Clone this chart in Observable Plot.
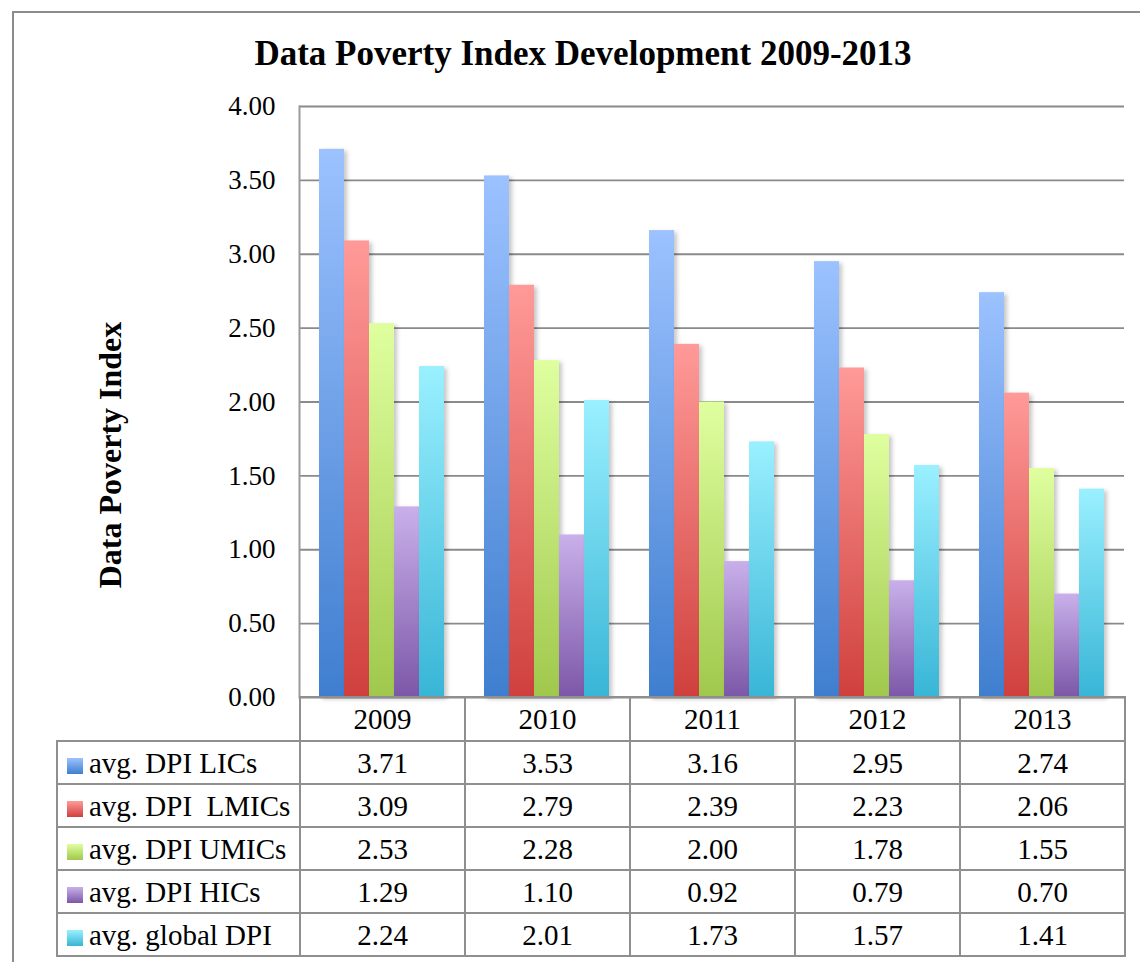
<!DOCTYPE html>
<html>
<head>
<meta charset="utf-8">
<script src="https://cdn.jsdelivr.net/npm/d3@7"></script>
<script src="https://cdn.jsdelivr.net/npm/@observablehq/plot@0.6"></script>
<style>
  body { margin: 0; background: #fff; }
  #wrap { position: relative; width: 1140px; height: 962px; overflow: hidden; background: #fff;
          font-family: "Liberation Serif", "Times New Roman", Times, serif; color: #000; }
  #border { position: absolute; left: 12px; top: 11px; width: 1300px; height: 1100px;
            border-left: 2px solid #8c8c8c; border-top: 2px solid #8c8c8c; }
  #title { position: absolute; left: 0; width: 1166px; top: 34px; text-align: center;
           font-weight: bold; font-size: 35px; line-height: 40px; white-space: nowrap; }
  #ylabel { position: absolute; left: 110px; top: 455px; transform: translate(-50%, -50%) rotate(-90deg);
            font-weight: bold; font-size: 32px; white-space: nowrap; line-height: 36px; }
  #chart { position: absolute; left: 0; top: 0; }
  #tbl { position: absolute; left: 56px; top: 696px; border-collapse: collapse; table-layout: fixed; }
  #tbl td { border: 2px solid #8f8f8f; padding: 0; font-size: 29px; text-align: center; height: 41px;
            white-space: pre; line-height: 30px; }
  #tbl tr.head td { height: 42px; }
  #tbl td.empty { border-left: none; border-top: none; }
  #tbl td.lab { text-align: left; padding-left: 9px; font-size: 29px; }
  .sw { display: inline-block; width: 16px; height: 16px; margin-right: 6px; vertical-align: -1px; }
</style>
</head>
<body>
<div id="wrap">
  <div id="border"></div>
  <div id="chart"></div>
  <div id="title"></div>
  <div id="ylabel"></div>
  <table id="tbl"></table>
</div>
<script>
// ---- data ----
const chartTitle = "Data Poverty Index Development 2009-2013";
const yLabel = "Data Poverty Index";
const years = ["2009", "2010", "2011", "2012", "2013"];
const seriesNames = ["avg. DPI LICs", "avg. DPI  LMICs", "avg. DPI UMICs", "avg. DPI HICs", "avg. global DPI"];
const licsValues   = [3.71, 3.53, 3.16, 2.95, 2.74];
const lmicsValues  = [3.09, 2.79, 2.39, 2.23, 2.06];
const umicsValues  = [2.53, 2.28, 2.00, 1.78, 1.55];
const hicsValues   = [1.29, 1.10, 0.92, 0.79, 0.70];
const globalValues = [2.24, 2.01, 1.73, 1.57, 1.41];
const yTicks = [0, 0.5, 1, 1.5, 2, 2.5, 3, 3.5, 4];
const gradTop    = ["#9cc2ff", "#ff9a98", "#dfff9f", "#c9b0ea", "#9af0ff"];
const gradBottom = ["#3f7ecf", "#cf403d", "#a0c84c", "#7c57a8", "#38b5d6"];

const valuesBySeries = [licsValues, lmicsValues, umicsValues, hicsValues, globalValues];
const rows = seriesNames.flatMap((s, i) => years.map((y, j) => ({ series: s, year: y, value: valuesBySeries[i][j], idx: i })));

document.getElementById("title").textContent = chartTitle;
document.getElementById("ylabel").textContent = yLabel;

const fmt = d3.format(".2f");

const plot = Plot.plot({
  width: 1140,
  height: 700,
  marginLeft: 299,
  marginRight: 16,
  marginTop: 106,
  marginBottom: 3,
  style: { fontFamily: '"Liberation Serif", "Times New Roman", serif', fontSize: "27px", color: "#000", background: "transparent", overflow: "visible" },
  fx: { domain: years, padding: 0, axis: null },
  x: { domain: seriesNames, paddingInner: 0, paddingOuter: 0.74, axis: null },
  y: { domain: [0, 4] },
  marks: [
    Plot.gridY(yTicks, { stroke: "#8a8a8a", strokeOpacity: 1, strokeWidth: 1.8 }),
    Plot.frame({ anchor: "left", facet: "super", stroke: "#9a9a9a", strokeWidth: 2 }),
    ...seriesNames.map((s, i) => Plot.barY(rows.filter(d => d.idx === i), {
      fx: "year", x: "series", y: "value", fill: `url(#dpiGrad${i})`,
      imageFilter: "drop-shadow(3px 2px 2px rgba(0,0,0,0.22))"
    })),
    Plot.axisY(yTicks, { tickSize: 0, tickPadding: 24, tickFormat: fmt, fontSize: 27, label: null })
  ]
});

const svg = d3.select(plot);
const defs = svg.insert("defs", ":first-child");
seriesNames.forEach((s, i) => {
  const g = defs.append("linearGradient").attr("id", `dpiGrad${i}`)
    .attr("x1", 0).attr("y1", 0).attr("x2", 0).attr("y2", 1);
  g.append("stop").attr("offset", "0%").attr("stop-color", gradTop[i]);
  g.append("stop").attr("offset", "100%").attr("stop-color", gradBottom[i]);
});
document.getElementById("chart").appendChild(plot);

// ---- data table ----
const tbl = d3.select("#tbl");
const cg = tbl.append("colgroup");
cg.append("col").style("width", "243px");
years.forEach(() => cg.append("col").style("width", "165px"));
const head = tbl.append("tr").attr("class", "head");
head.append("td").attr("class", "empty");
years.forEach(y => head.append("td").text(y));
seriesNames.forEach((s, i) => {
  const tr = tbl.append("tr");
  const lab = tr.append("td").attr("class", "lab");
  lab.append("span").attr("class", "sw")
    .style("background", `linear-gradient(${gradTop[i]}, ${gradBottom[i]})`);
  lab.append("span").text(s);
  valuesBySeries[i].forEach(v => tr.append("td").text(fmt(v)));
});
</script>
</body>
</html>
